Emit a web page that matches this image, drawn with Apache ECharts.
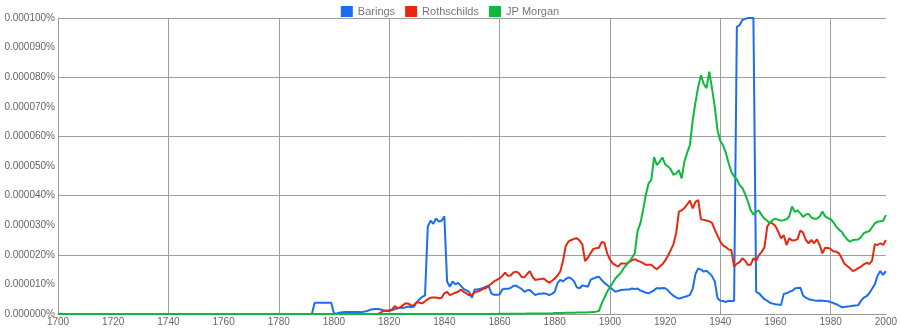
<!DOCTYPE html>
<html>
<head>
<meta charset="utf-8">
<script src="https://cdn.jsdelivr.net/npm/echarts@6/dist/echarts.min.js"></script>
<style>html,body{margin:0;padding:0;background:#fff}#c{width:900px;height:330px}</style>
</head>
<body>
<div id="c"></div>
<script>
// Values in units of 0.000001 %
const seriesNames = ['Barings', 'Rothschilds', 'JP Morgan'];
const firstYear = 1700;
const dataStartYear = 1790;
const lastYear = 2000;

const barings = [
  0,0,0,3.8,3.8,3.8,3.8,3.8,3.8,3.8,
  0.2,0.2,0.4,0.6,0.7,0.7,0.7,0.7,0.7,0.7,
  0.6,0.8,1.0,1.4,1.6,1.7,1.7,1.5,1.2,1.0,
  1.0,1.3,1.6,1.9,2.2,2.0,2.3,2.5,2.3,2.5,
  4.0,5.0,5.8,6.3,29.5,31.5,30.5,32.3,31.2,31.5,
  33.0,11.0,9.2,11.0,10.0,10.5,9.5,8.5,8.0,7.5,
  5.5,8.3,8.3,8.5,8.8,9.2,9.6,7.0,6.5,6.5,
  6.6,8.3,8.5,8.5,8.8,9.5,9.6,9.0,8.5,7.5,
  8.0,8.1,7.2,6.4,6.8,6.8,7.0,6.8,6.4,6.8,
  7.5,10.4,11.5,11.0,11.8,12.4,12.0,11.0,9.0,8.7,
  9.6,9.5,9.2,11.5,12.0,12.4,12.6,11.5,10.5,9.8,
  9.0,8.3,7.5,7.8,8.1,8.2,8.3,8.3,8.6,8.4,
  8.6,8.0,7.6,7.2,7.0,7.5,8.0,8.8,8.6,8.8,
  8.7,8.0,7.0,6.2,5.6,5.2,5.5,5.8,6.0,6.5,
  8.5,13.5,15.4,15.0,14.3,14.6,13.8,12.8,11.0,5.3,
  4.5,4.4,4.0,4.5,4.3,4.5,97.0,97.6,99.3,99.7,
  100,100,100,7.5,7.0,6.0,5.0,4.5,3.8,3.5,
  3.3,3.2,3.0,6.8,7.0,7.5,7.8,8.6,8.8,8.9,
  6.2,5.5,5.0,4.8,4.6,4.5,4.6,4.5,4.4,4.3,
  4.0,3.7,3.3,2.8,2.3,2.4,2.5,2.6,2.8,2.9,
  3.0,4.5,5.5,6.0,7.0,8.5,10.0,13.0,14.5,13.2,
  14.5
];

const rothschilds = [
  0,0,0,0,0,0,0,0,0,0,
  0,0,0,0,0,0,0,0,0,0,
  0,0,0,0,0,0,0,0.5,1.1,1.2,
  1.2,1.5,2.7,2.0,2.2,3.0,3.6,3.5,2.9,3.0,
  4.0,3.8,3.6,4.3,5.0,5.5,5.6,5.6,5.3,5.5,
  7.0,7.5,6.4,6.8,7.2,7.5,8.3,7.5,7.0,6.3,
  6.5,7.3,7.6,7.9,8.5,8.7,9.5,10.2,11.0,11.5,
  12.0,12.8,14.0,12.9,13.0,14.0,14.3,13.8,12.5,12.4,
  13.5,14.5,12.5,11.5,11.7,11.8,12.0,11.2,10.6,11.2,
  12.0,13.0,14.3,18.0,23.0,24.5,25.0,25.4,25.6,24.8,
  23.5,17.9,19.0,20.5,22.0,22.2,22.4,24.3,24.1,20.5,
  18.5,17.1,16.5,16.0,17.1,17.1,17.0,17.5,18.2,18.5,
  18.0,17.7,17.2,16.6,16.6,16.6,15.8,15.1,16.0,16.8,
  18.0,19.6,21.5,23.5,27.3,34.6,35.0,35.8,37.0,38.3,
  35.7,37.9,38.5,32.0,31.8,31.6,31.3,30.8,28.5,26.5,
  24.5,23.2,22.6,21.8,21.6,16.0,17.0,17.5,18.8,18.0,
  16.6,16.6,18.8,18.0,19.9,21.0,22.5,29.5,31.0,30.5,
  29.7,27.8,25.6,26.6,23.3,25.6,24.8,24.9,25.3,28.2,
  27.5,25.0,23.9,25.0,23.9,25.2,23.3,20.5,22.4,22.3,
  22.0,21.1,21.1,20.5,18.8,17.0,16.2,15.5,14.5,14.9,
  15.5,16.0,16.8,17.3,16.9,18.0,23.6,23.3,23.9,23.3,
  25.0
];

const jpMorgan = [
  0,0,0,0,0,0,0,0,0,0,
  0,0,0,0,0,0,0,0,0,0,
  0,0,0,0,0,0,0,0,0,0,
  0,0,0,0,0,0,0,0,0,0,
  0,0,0,0,0,0,0,0,0,0,
  0,0,0,0,0,0,0,0,0,0,
  0,0,0,0,0,0,0,0,0,0,
  0.1,0.1,0.1,0.1,0.1,0.1,0.1,0.1,0.1,0.1,
  0.2,0.2,0.2,0.2,0.2,0.2,0.2,0.2,0.2,0.2,
  0.3,0.3,0.3,0.3,0.4,0.4,0.4,0.4,0.5,0.5,
  0.5,0.5,0.6,0.6,0.7,0.8,1.0,3.5,5.5,7.5,
  9.0,10.5,12.0,13.0,14.0,15.5,16.6,17.7,19.0,20.5,
  28.0,30.5,35.0,40.2,44.1,45.3,53.0,50.3,51.4,52.9,
  50.6,49.8,49.0,47.0,47.5,48.6,45.8,51.5,54.5,57.1,
  65.5,71.5,76.8,80.7,77.7,76.3,81.9,76.2,70.0,62.0,
  58.5,57.0,54.5,51.0,48.0,46.5,45.5,43.6,42.6,40.5,
  38.0,35.1,33.6,34.5,35.0,33.4,32.2,31.5,30.6,31.8,
  32.2,31.8,31.6,31.7,32.0,33.0,36.3,34.5,35.0,34.0,
  32.8,33.6,33.8,32.6,32.2,32.2,32.9,34.6,33.0,32.4,
  32.0,31.0,29.5,28.5,27.8,26.3,25.2,24.4,25.0,25.1,
  25.2,26.0,27.3,27.7,28.0,29.3,30.6,31.2,31.3,31.5,
  33.4
];

const colors = ['#1c6ef0', '#e6280f', '#0eb93b'];

function toPairs(arr) {
  const out = [[firstYear, 0]];
  arr.forEach((v, i) => out.push([dataStartYear + i, v]));
  return out;
}

const chart = echarts.init(document.getElementById('c'), null, {renderer: 'canvas'});
const font = 'Arial, "Liberation Sans", sans-serif';
chart.setOption({
  animation: false,
  color: colors,
  legend: {
    top: 1,
    left: 'center',
    icon: 'rect',
    itemWidth: 12,
    itemHeight: 11,
    itemGap: 10,
    textStyle: {color: '#777', fontSize: 11, fontFamily: font},
    data: seriesNames
  },
  grid: {left: 58, right: 14, top: 18, bottom: 16, containLabel: false},
  xAxis: {
    type: 'value', min: firstYear, max: lastYear, interval: 20,
    axisLine: {show: true, lineStyle: {color: '#999', width: 1}},
    axisTick: {show: false},
    axisLabel: {color: '#666', fontSize: 10, fontFamily: font, margin: 3, formatter: v => String(v)},
    splitLine: {show: true, lineStyle: {color: ['#9e9e9e', 'rgba(0,0,0,0)'], width: 1}}
  },
  yAxis: {
    type: 'value', min: 0, max: 100, interval: 10,
    axisLine: {show: true, lineStyle: {color: '#999', width: 1}},
    axisTick: {show: false},
    axisLabel: {color: '#666', fontSize: 10, fontFamily: font, margin: 3,
      formatter: v => (v / 1e6).toFixed(6) + '%'},
    splitLine: {show: true, lineStyle: {color: ['#9e9e9e', 'rgba(0,0,0,0)'], width: 1}}
  },
  series: [
    {name: seriesNames[0], type: 'line', data: toPairs(barings)},
    {name: seriesNames[1], type: 'line', data: toPairs(rothschilds)},
    {name: seriesNames[2], type: 'line', data: toPairs(jpMorgan)}
  ].map(s => Object.assign(s, {showSymbol: false, symbol: 'none', lineStyle: {width: 2}, clip: true}))
});
</script>
</body>
</html>
